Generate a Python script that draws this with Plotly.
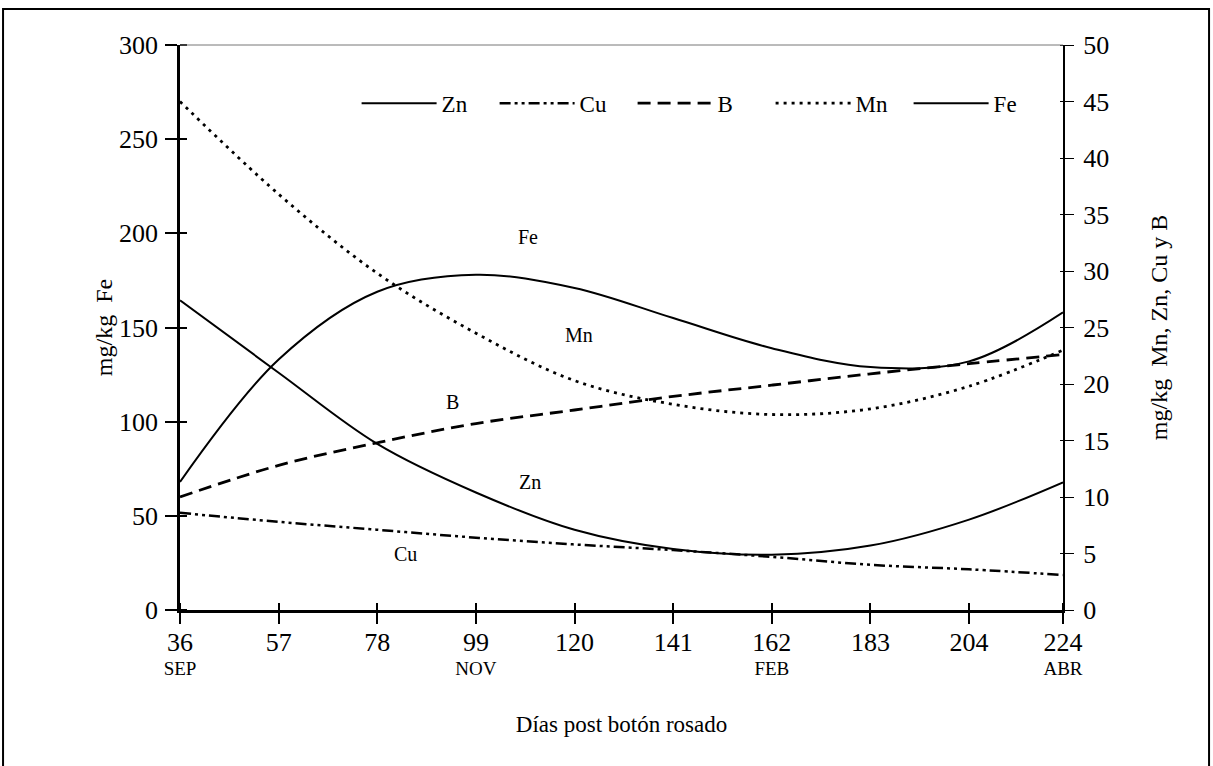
import plotly.graph_objects as go

# ---- data ----
days = [36, 57, 78, 99, 120, 141, 162, 183, 204, 224]
months = ["SEP", "", "", "NOV", "", "", "FEB", "", "", "ABR"]

fe = [68, 133, 169, 178, 171, 155, 139, 129, 132, 158]          # left axis
zn = [27.4, 21.0, 14.7, 10.4, 7.1, 5.4, 4.9, 5.7, 8.0, 11.3]    # right axis
cu = [8.6, 7.8, 7.1, 6.4, 5.8, 5.3, 4.7, 4.0, 3.6, 3.1]
b = [10.0, 12.8, 14.8, 16.5, 17.7, 18.9, 19.9, 20.9, 21.8, 22.6]
mn = [45.0, 36.8, 29.8, 24.5, 20.3, 18.2, 17.3, 17.8, 19.8, 23.0]

labels = ["Fe", "Mn", "B", "Zn", "Cu"]
label_x = [110, 121, 94, 110.5, 84]
label_y = [198, 24.3, 18.4, 11.3, 5.0]
label_ref = ["y", "y2", "y2", "y2", "y2"]

FONT = "Liberation Serif"
EPS = 1e-4  # minor ticks nudged off the majors so both halves of the cross tick draw

ticktext = [f"<span style='font-size:26px'>{d}</span><br>{m if m else ' '}"
            for d, m in zip(days, months)]

fig = go.Figure()
lw = 2
fig.add_trace(go.Scatter(x=days, y=zn, name="Zn", yaxis="y2", mode="lines",
                         line=dict(color="black", width=lw, shape="spline")))
fig.add_trace(go.Scatter(x=days, y=cu, name="Cu", yaxis="y2", mode="lines",
                         line=dict(color="black", width=lw + 0.5, shape="spline",
                                   dash="11px,4px,3px,4px,3px,4px")))
fig.add_trace(go.Scatter(x=days, y=b, name="B", yaxis="y2", mode="lines",
                         line=dict(color="black", width=lw + 0.8, shape="spline",
                                   dash="13px,7px")))
fig.add_trace(go.Scatter(x=days, y=mn, name="Mn", yaxis="y2", mode="lines",
                         line=dict(color="black", width=lw + 0.8, shape="spline",
                                   dash="3px,5px")))
fig.add_trace(go.Scatter(x=days, y=fe, name="Fe", yaxis="y", mode="lines",
                         line=dict(color="black", width=lw, shape="spline")))

for t, xv, yv, r in zip(labels, label_x, label_y, label_ref):
    fig.add_annotation(x=xv, y=yv, xref="x", yref=r, text=t, showarrow=False,
                       font=dict(family=FONT, size=20, color="black"))

axis_font = dict(family=FONT, size=26, color="black")

fig.update_layout(
    width=1213, height=766,
    margin=dict(l=180, r=150, t=45, b=156),
    paper_bgcolor="white", plot_bgcolor="white",
    font=dict(family=FONT, size=20, color="black"),
    showlegend=True,
    legend=dict(orientation="h", x=0.2, y=0.897, xanchor="left", yanchor="middle",
                bgcolor="rgba(0,0,0,0)", font=dict(family=FONT, size=23),
                itemwidth=75, entrywidth=48, traceorder="normal"),
    xaxis=dict(range=[36, 224], tickmode="array", tickvals=days, ticktext=ticktext,
               ticks="outside", ticklen=11, tickwidth=2, tickcolor="black",
               minor=dict(tickmode="array", tickvals=[d + EPS for d in days[:-1]] + [days[-1] - EPS],
                          ticks="inside", ticklen=7, tickwidth=2, tickcolor="black",
                          showgrid=False),
               showline=True, linewidth=2.5, linecolor="black", showgrid=False,
               zeroline=False, tickfont=dict(family=FONT, size=19, color="black"),
               ticklabelstandoff=4,
               title=dict(text="Días post botón rosado", font=dict(family=FONT, size=23),
                          standoff=38)),
    yaxis=dict(range=[0, 300], dtick=50, ticks="outside", ticklen=12, tickwidth=2,
               tickcolor="black",
               minor=dict(tick0=EPS, dtick=50, ticks="inside", ticklen=7, tickwidth=2,
                          tickcolor="black", showgrid=False),
               showline=True, linewidth=2.5, linecolor="black",
               showgrid=False, zeroline=False, tickfont=axis_font, ticklabelstandoff=2,
               title=dict(text="mg/kg  Fe", font=dict(family=FONT, size=24), standoff=0)),
    yaxis2=dict(range=[0, 50], dtick=5, overlaying="y", side="right", anchor="x",
                ticks="outside", ticklen=9, tickwidth=1, tickcolor="black",
                minor=dict(tick0=EPS, dtick=5, ticks="inside", ticklen=3, tickwidth=1,
                           tickcolor="black", showgrid=False),
                showline=True, linewidth=2, linecolor="black", showgrid=False,
                zeroline=False, tickfont=axis_font, ticklabelstandoff=4,
                title=dict(text="mg/kg  Mn, Zn, Cu y B", font=dict(family=FONT, size=24),
                           standoff=42)),
)

# thin top frame of the plot area and outer figure border
fig.add_shape(type="line", xref="paper", yref="paper", x0=0, x1=1, y0=1, y1=1,
              line=dict(color="#777777", width=1))
fig.add_shape(type="rect", xref="paper", yref="paper",
              x0=-0.2004, x1=1.1654, y0=-0.3, y1=1.0637,
              line=dict(color="black", width=2), fillcolor="rgba(0,0,0,0)", layer="below")

fig.write_html("out.html")
